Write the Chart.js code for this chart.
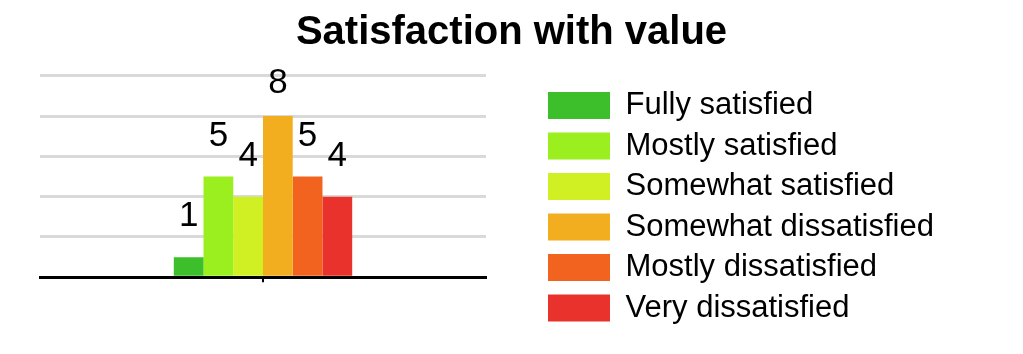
<!DOCTYPE html>
<html>
<head>
<meta charset="utf-8">
<script src="https://cdn.jsdelivr.net/npm/chart.js@4/dist/chart.umd.min.js"></script>
<style>
  html, body { margin: 0; padding: 0; background: #fff; }
  #wrap { width: 1023px; height: 354px; }
</style>
</head>
<body>
<div id="wrap"><canvas id="valueChart" width="1023" height="354"></canvas></div>
<script>
const categories = [''];
const answers = ['Fully satisfied', 'Mostly satisfied', 'Somewhat satisfied',
  'Somewhat dissatisfied', 'Mostly dissatisfied', 'Very dissatisfied'];
const counts = [1, 5, 4, 8, 5, 4];
const colors = ['#3dbf2b', '#9cef1f', '#d0f023', '#f3ae1f', '#f26320', '#e8322b'];
const yTicks = [0, 2, 4, 6, 8, 10];

const fontFamily = '"Liberation Sans", Arial, sans-serif';
const legendSize = 31;
const legendPad = 9.5;
const legendBox = 62;
const legendLeft = 548 - legendPad;   // where the legend block starts
const plotRight = 486;

// value above each bar, kept inside the top of the plot like the original
const valueLabels = {
  id: 'valueLabels',
  afterDatasetsDraw(chart) {
    const ctx = chart.ctx;
    ctx.save();
    ctx.font = '35px ' + fontFamily;
    ctx.fillStyle = '#000';
    ctx.textAlign = 'center';
    ctx.textBaseline = 'alphabetic';
    chart.data.datasets.forEach(function(ds, i) {
      const bar = chart.getDatasetMeta(i).data[0];
      const y = Math.max(bar.y - 31, chart.chartArea.top + 17);
      ctx.fillText(String(ds.data[0]), bar.x, y);
    });
    ctx.restore();
  }
};

// title centred on the whole picture, not on the space left of the legend
const centerTitle = {
  id: 'centerTitle',
  afterLayout(chart) {
    chart.titleBlock.left = 0;
    chart.titleBlock.right = chart.width;
  }
};

// legend width as chart.js will fit it, so the right padding puts it at legendLeft
const canvas = document.getElementById('valueChart');
const ctx = canvas.getContext('2d');
ctx.font = legendSize + 'px ' + fontFamily;
let widest = 0;
answers.forEach(function(a) { widest = Math.max(widest, ctx.measureText(a).width); });
const legendWidth = legendPad + legendBox + legendSize / 2 + widest + 10;
const padRight = canvas.width - legendLeft - legendWidth;

const datasets = answers.map(function(name, i) {
  return {
    label: name,
    data: [counts[i]],
    backgroundColor: colors[i],
    borderWidth: 0,
    categoryPercentage: 0.4,
    barPercentage: 1
  };
});

new Chart(ctx, {
  type: 'bar',
  data: { labels: categories, datasets: datasets },
  plugins: [valueLabels, centerTitle],
  options: {
    responsive: false,
    maintainAspectRatio: false,
    animation: false,
    layout: { padding: { left: 40, right: padRight, top: 0, bottom: 21 } },
    plugins: {
      title: {
        display: true,
        text: 'Satisfaction with value',
        color: '#000',
        font: { family: fontFamily, size: 40, weight: 'bold', lineHeight: 1.2 },
        padding: { top: 9, bottom: 18.7 }
      },
      legend: {
        position: 'right',
        align: 'end',
        maxWidth: 1000,
        labels: {
          boxWidth: legendBox,
          boxHeight: 27,
          padding: legendPad,
          color: '#000',
          font: { family: fontFamily, size: legendSize }
        }
      },
      tooltip: { enabled: false }
    },
    scales: {
      x: {
        grid: {
          display: true,
          drawOnChartArea: false,
          offset: false,
          drawTicks: true,
          tickLength: 5,
          color: '#000',
          lineWidth: 2
        },
        border: { display: true, color: '#000', width: 3, z: 1 },
        ticks: { display: false },
        afterFit(axis) { axis.height = 55.7; }
      },
      y: {
        position: 'right',
        min: yTicks[0],
        max: yTicks[yTicks.length - 1],
        afterBuildTicks(axis) {
          axis.ticks = yTicks.map(function(v) { return { value: v }; });
        },
        grid: {
          drawTicks: false,
          lineWidth: 3,
          color(c) { return c.tick && c.tick.value === 0 ? 'rgba(0,0,0,0)' : '#d9d9d9'; }
        },
        border: { display: false },
        ticks: { display: false },
        afterFit(axis) { axis.width = legendLeft - plotRight; }
      }
    }
  }
});
</script>
</body>
</html>
